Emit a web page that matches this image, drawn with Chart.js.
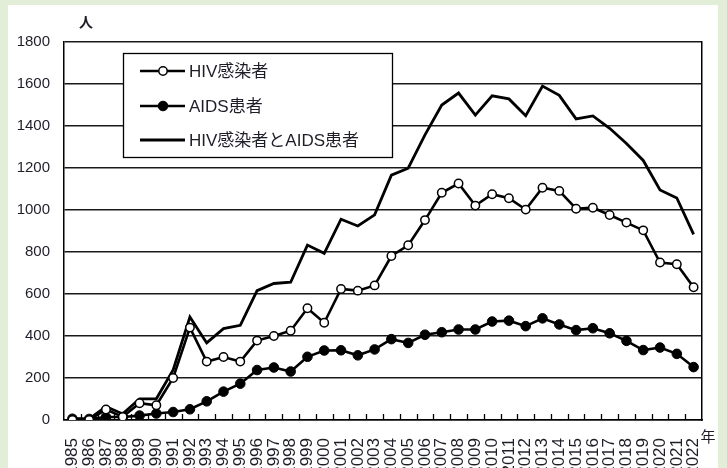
<!DOCTYPE html>
<html>
<head>
<meta charset="utf-8">
<script src="https://cdn.jsdelivr.net/npm/chart.js@4.4.0/dist/chart.umd.min.js"></script>
<style>
  html, body { margin: 0; padding: 0; background: #e3eed9; }
  #wrap { position: relative; width: 727px; height: 468px; overflow: hidden; }
  #panel { position: absolute; left: 8px; top: 5px; width: 710px; height: 470px; background: #fff; }
  #chart { position: absolute; left: 0; top: 0; }
</style>
</head>
<body>
<div id="wrap">
  <div id="panel"></div>
  <canvas id="chart" width="727" height="468"></canvas>
</div>
<script>
// 年別報告数（人）
const years = ['1985', '1986', '1987', '1988', '1989', '1990', '1991', '1992', '1993', '1994',
  '1995', '1996', '1997', '1998', '1999', '2000', '2001', '2002', '2003', '2004',
  '2005', '2006', '2007', '2008', '2009', '2010', '2011', '2012', '2013', '2014',
  '2015', '2016', '2017', '2018', '2019', '2020', '2021', '2022'];

const hivCases = [0, 0, 50, 15, 80, 70, 200, 440, 278, 300,
  278, 378, 400, 425, 532, 463, 624, 616, 641, 781,
  832, 952, 1082, 1126, 1021, 1075, 1056, 1002, 1106, 1091,
  1006, 1011, 976, 940, 903, 750, 742, 632];

const aidsCases = [6, 5, 14, 14, 21, 31, 38, 51, 89, 135,
  173, 238, 250, 231, 301, 331, 332, 308, 336, 385,
  367, 406, 418, 431, 431, 469, 473, 447, 484, 455,
  428, 437, 413, 377, 333, 345, 315, 252];

const totalCases = [6, 5, 64, 29, 101, 101, 238, 491, 367, 435,
  451, 616, 650, 656, 833, 794, 956, 924, 977, 1166,
  1199, 1358, 1500, 1557, 1452, 1544, 1529, 1449, 1590, 1546,
  1434, 1448, 1389, 1317, 1236, 1095, 1057, 884];

const seriesNames = ['HIV感染者', 'AIDS患者', 'HIV感染者とAIDS患者'];
const yTicks = [0, 200, 400, 600, 800, 1000, 1200, 1400, 1600, 1800];

const FONT = '"Liberation Sans", "Noto Sans CJK JP", Arial, sans-serif';
const TEXT = '#1e1e28';

Chart.defaults.font.family = FONT;
Chart.defaults.color = TEXT;

// x軸の内向き目盛り
const innerTicks = {
  id: 'innerTicks',
  beforeDatasetsDraw(chart) {
    const xs = chart.scales.x;
    const bottom = chart.chartArea.bottom;
    const ctx = chart.ctx;
    ctx.save();
    ctx.strokeStyle = '#000';
    ctx.lineWidth = 1.3;
    for (let i = 1; i < years.length; i++) {
      const px = Math.round(xs.getPixelForValue(i - 0.5)) + 0.5;
      ctx.beginPath();
      ctx.moveTo(px, bottom);
      ctx.lineTo(px, bottom - 6);
      ctx.stroke();
    }
    ctx.restore();
  }
};

// 凡例（グラフ内の枠）
const boxLegend = {
  id: 'boxLegend',
  afterDatasetsDraw(chart) {
    const ctx = chart.ctx;
    const box = { x: 123, y: 53, w: 269, h: 104 };
    ctx.save();
    ctx.fillStyle = '#fff';
    ctx.fillRect(box.x, box.y, box.w, box.h);
    ctx.strokeStyle = '#000';
    ctx.lineWidth = 1.3;
    ctx.strokeRect(box.x + 0.5, box.y + 0.5, box.w, box.h);

    const rows = [71, 106, 140];
    chart.data.datasets.forEach((ds, i) => {
      const y = rows[i];
      ctx.strokeStyle = ds.borderColor;
      ctx.lineWidth = ds.borderWidth;
      ctx.beginPath();
      ctx.moveTo(140, y);
      ctx.lineTo(185, y);
      ctx.stroke();
      if (ds.pointRadius > 0) {
        ctx.beginPath();
        ctx.arc(163, y, ds.pointRadius, 0, Math.PI * 2);
        ctx.fillStyle = ds.pointBackgroundColor;
        ctx.fill();
        ctx.lineWidth = ds.pointBorderWidth;
        ctx.strokeStyle = ds.pointBorderColor;
        ctx.stroke();
      }
      ctx.fillStyle = TEXT;
      ctx.font = '17px ' + FONT;
      ctx.textBaseline = 'middle';
      ctx.textAlign = 'left';
      ctx.fillText(ds.label, 189, y + 1);
    });
    ctx.restore();
  }
};

// 単位ラベル
const unitLabels = {
  id: 'unitLabels',
  afterDraw(chart) {
    const ctx = chart.ctx;
    ctx.save();
    ctx.fillStyle = TEXT;
    ctx.font = 'bold 14px ' + FONT;
    ctx.textAlign = 'center';
    ctx.textBaseline = 'middle';
    ctx.fillText('人', 86, 23);
    ctx.font = '15px ' + FONT;
    ctx.fillText('年', 708, 438);
    ctx.restore();
  }
};

new Chart(document.getElementById('chart'), {
  type: 'line',
  data: {
    labels: years,
    datasets: [
      {
        label: seriesNames[0],
        data: hivCases,
        borderColor: '#000',
        borderWidth: 2.6,
        pointRadius: 4.2,
        pointBackgroundColor: '#fff',
        pointBorderColor: '#000',
        pointBorderWidth: 1.5,
        tension: 0
      },
      {
        label: seriesNames[1],
        data: aidsCases,
        borderColor: '#000',
        borderWidth: 2.6,
        pointRadius: 4.8,
        pointBackgroundColor: '#000',
        pointBorderColor: '#000',
        pointBorderWidth: 1,
        tension: 0
      },
      {
        label: seriesNames[2],
        data: totalCases,
        borderColor: '#000',
        borderWidth: 2.8,
        pointRadius: 0,
        tension: 0
      }
    ]
  },
  options: {
    responsive: false,
    animation: false,
    devicePixelRatio: 1,
    layout: { padding: { left: 0, top: 42, right: 25, bottom: 0 } },
    plugins: {
      legend: { display: false },
      tooltip: { enabled: false }
    },
    scales: {
      x: {
        offset: true,
        grid: { display: false, offset: true },
        border: { display: true, color: '#000', width: 1.5 },
        ticks: {
          autoSkip: false,
          maxRotation: 90,
          minRotation: 90,
          padding: 10,
          color: TEXT,
          font: { size: 17 }
        },
        afterFit(scale) { scale.height = 48; }
      },
      y: {
        min: 0,
        max: 1800,
        afterBuildTicks(scale) { scale.ticks = yTicks.map(v => ({ value: v })); },
        grid: { color: '#1a1a1a', lineWidth: 1.5, drawTicks: false },
        border: { display: true, color: '#000', width: 1.5 },
        ticks: {
          padding: 14,
          color: TEXT,
          font: { size: 15 },
          callback: v => String(v)
        },
        afterFit(scale) { scale.width = 64; }
      },
      y2: {
        position: 'right',
        min: 0,
        max: 1800,
        grid: { display: false, drawTicks: false },
        border: { display: true, color: '#000', width: 1.5 },
        ticks: { display: false },
        afterFit(scale) { scale.width = 0; }
      }
    }
  },
  plugins: [innerTicks, boxLegend, unitLabels]
});
</script>
</body>
</html>
